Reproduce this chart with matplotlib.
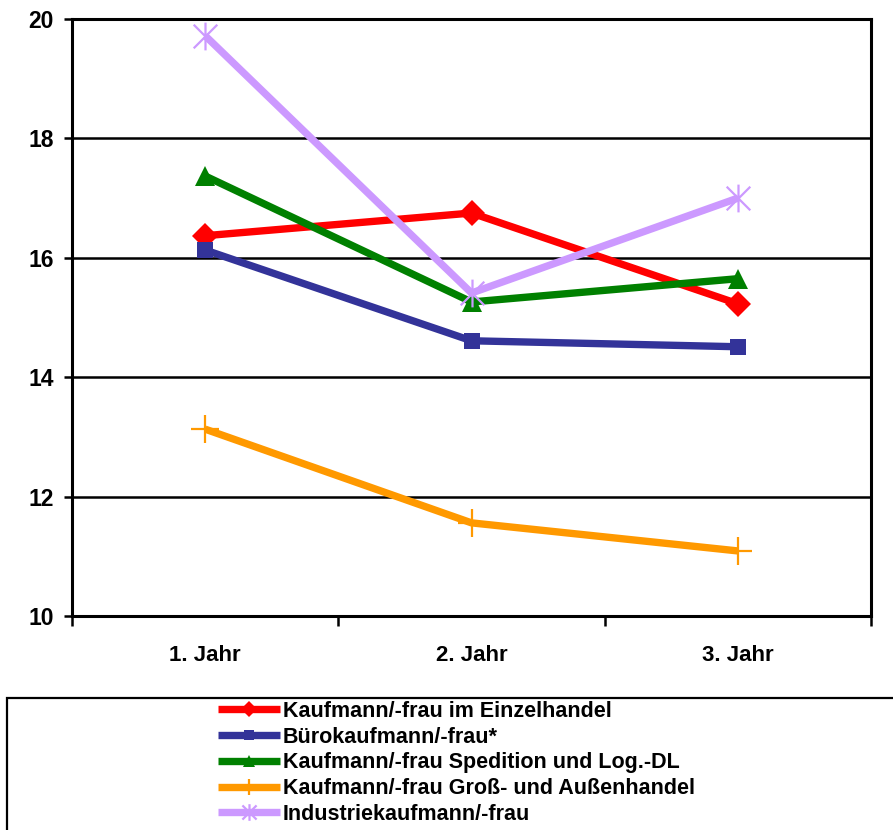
import matplotlib
matplotlib.use("Agg")
import matplotlib.pyplot as plt
import numpy as np
from matplotlib.path import Path
from matplotlib.patches import Rectangle

plt.rcParams['font.family'] = ['Liberation Sans', 'DejaVu Sans']
plt.rcParams['font.weight'] = 'bold'

years = ["1. Jahr", "2. Jahr", "3. Jahr"]
series_names = [
    "Kaufmann/-frau im Einzelhandel",
    "Bürokaufmann/-frau*",
    "Kaufmann/-frau Spedition und Log.-DL",
    "Kaufmann/-frau Groß- und Außenhandel",
    "Industriekaufmann/-frau",
]
einzelhandel = [16.37, 16.75, 15.23]
buero = [16.13, 14.61, 14.51]
spedition = [17.37, 15.26, 15.65]
grosshandel = [13.13, 11.56, 11.09]
industrie = [19.72, 15.41, 17.0]

# asterisk marker: vertical line plus an X
asterisk = Path(
    [(0, -1), (0, 1), (-0.85, -0.85), (0.85, 0.85), (-0.85, 0.85), (0.85, -0.85)],
    [Path.MOVETO, Path.LINETO, Path.MOVETO, Path.LINETO, Path.MOVETO, Path.LINETO],
)

styles = [
    dict(color="#FF0000", marker="D", ms=13, mew=0),
    dict(color="#333399", marker="s", ms=12, mew=0),
    dict(color="#008000", marker="^", ms=15, mew=0),
    dict(color="#FF9900", marker="+", ms=20, mew=1.6),
    dict(color="#CC99FF", marker=asterisk, ms=20, mew=1.6),
]
values = [einzelhandel, buero, spedition, grosshandel, industrie]

W, H = 893, 830
fig = plt.figure(figsize=(W / 100, H / 100), dpi=100)
ax = fig.add_axes([72 / W, 1 - 616 / H, (871 - 72) / W, (616 - 19) / H])

x = np.arange(len(years))
for name, vals, st in zip(series_names, values, styles):
    ax.plot(x, vals, lw=5.3, label=name, color=st["color"], marker=st["marker"],
            markersize=st["ms"], markeredgewidth=st["mew"],
            markeredgecolor=st["color"], solid_capstyle="butt")

ax.set_xlim(-0.5, 2.5)
ax.set_ylim(10, 20)
ax.set_yticks(np.arange(10, 21, 2))
ax.yaxis.grid(True, color="black", lw=1.8)
ax.set_axisbelow(True)
ax.set_xticks(x, years)
ax.set_xticks([-0.5, 0.5, 1.5, 2.5], minor=True)
ax.tick_params(axis="x", which="major", length=0, pad=21, labelsize=16)
ax.tick_params(axis="x", which="minor", length=7, width=1.8, direction="out")
ax.tick_params(axis="y", length=6, width=1.8, pad=7, labelsize=16.5)
for s in ax.spines.values():
    s.set_linewidth(2.2)
    s.set_color("black")

# legend frame
fig.patches.append(Rectangle((7 / W, -0.05), 1.0, 1.05 - 698 / H, transform=fig.transFigure,
                             fill=False, edgecolor="black", lw=1.6))
leg = fig.legend(loc="upper left", bbox_to_anchor=(218 / W, 1 - 701 / H),
                 frameon=False, fontsize=15.5, handlelength=2.9, handletextpad=0.1,
                 labelspacing=0.22, markerscale=0.6, borderpad=0, borderaxespad=0)

fig.savefig("out.png", dpi=100)
